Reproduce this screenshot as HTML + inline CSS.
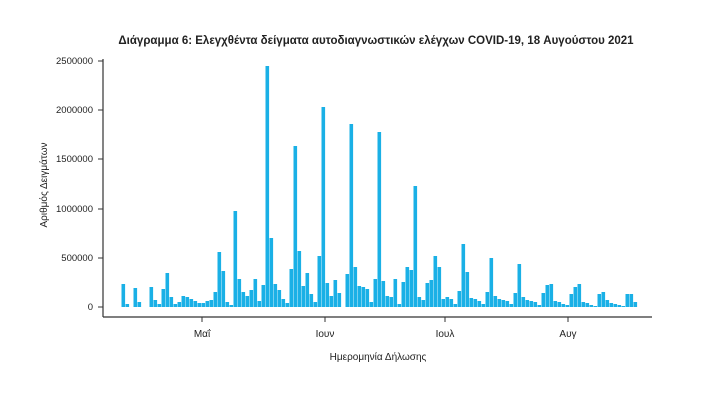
<!DOCTYPE html>
<html><head><meta charset="utf-8"><style>
html,body{margin:0;padding:0;background:#fff;}
svg{display:block;font-family:"Liberation Sans","DejaVu Sans",sans-serif;}
</style></head><body>
<svg id="c" width="717" height="412" viewBox="0 0 717 412" xmlns="http://www.w3.org/2000/svg">
<rect width="717" height="412" fill="#fff"/>
<text x="376" y="44" text-anchor="middle" font-size="11.5" font-weight="bold" fill="#222">Διάγραμμα 6: Ελεγχθέντα δείγματα αυτοδιαγνωστικών ελέγχων COVID-19, 18 Αυγούστου 2021</text>
<g id="bars" fill="#1ab0e6"></g>
<line x1="103" y1="59" x2="103" y2="317" stroke="#333" stroke-width="1.2"/>
<line x1="103" y1="317" x2="652" y2="317" stroke="#333" stroke-width="1.2"/>
<g stroke="#333" stroke-width="1">
<line x1="98" y1="61" x2="103" y2="61"/><line x1="98" y1="110" x2="103" y2="110"/>
<line x1="98" y1="159" x2="103" y2="159"/><line x1="98" y1="209" x2="103" y2="209"/>
<line x1="98" y1="258" x2="103" y2="258"/><line x1="98" y1="307" x2="103" y2="307"/>
<line x1="202" y1="317" x2="202" y2="322"/><line x1="325" y1="317" x2="325" y2="322"/>
<line x1="445" y1="317" x2="445" y2="322"/><line x1="568" y1="317" x2="568" y2="322"/>
</g>
<g font-size="9.5" fill="#222" text-anchor="end">
<text x="93" y="64">2500000</text><text x="93" y="113">2000000</text>
<text x="93" y="162">1500000</text><text x="93" y="212">1000000</text>
<text x="93" y="261">500000</text><text x="93" y="310">0</text>
</g>
<g font-size="10" fill="#222" text-anchor="middle">
<text x="202" y="337">Μαΐ</text><text x="325" y="337">Ιουν</text>
<text x="445" y="337">Ιουλ</text><text x="568" y="337">Αυγ</text>
<text x="378" y="360">Ημερομηνία Δήλωσης</text>
<text transform="translate(47,185) rotate(-90)">Αριθμός Δειγμάτων</text>
</g>
</svg>
<script>
var h=[23,3,0,19,5,0,0,20,7,3,18,34,10,3,5,11,10,8,6,4,4,6,7,15,55,36,5,2,96,28,15,11,17,28,6,22,241,69,23,17,8,4,38,161,56,21,34,13,5,51,200,24,11,27,14,0,33,183,40,21,20,18,5,28,175,26,11,10,28,3,25,40,37,121,10,7,24,27,51,40,8,10,8,3,16,63,35,9,8,6,3,15,49,11,8,7,6,3,14,43,10,7,6,5,2,14,22,23,6,5,3,2,13,20,23,5,4,2,1,13,15,7,4,3,2,1,13,13,5];
var g=document.getElementById('bars'),s='';
for(var i=0;i<h.length;i++){if(h[i]>0){var x=121.5+4*i;s+='<rect x="'+x.toFixed(1)+'" y="'+(307-h[i])+'" width="3.6" height="'+h[i]+'"/>';}}
g.innerHTML=s;
</script>
</body></html>
